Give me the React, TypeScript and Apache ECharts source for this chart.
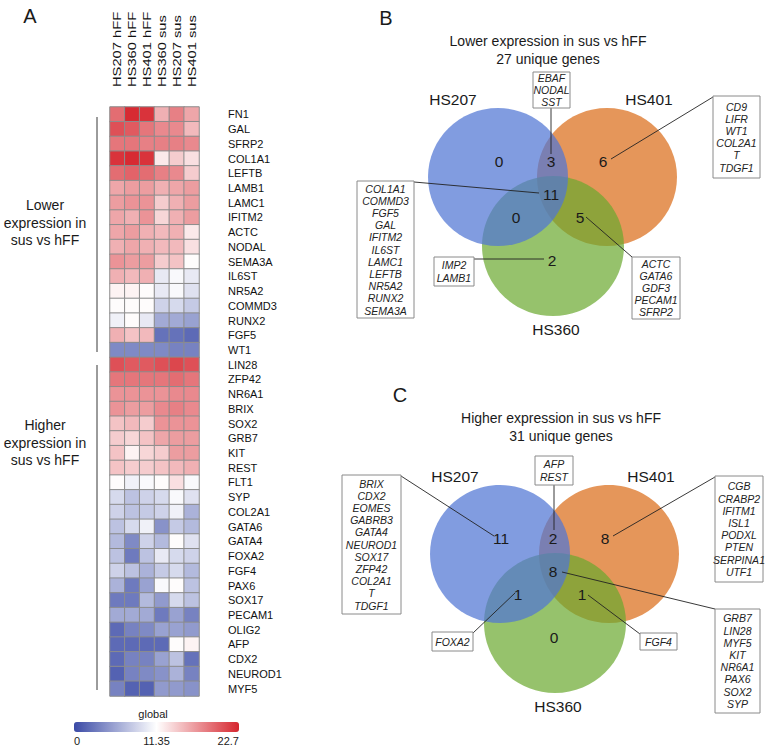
import React, { useEffect, useRef } from "react";
import * as echarts from "echarts";

const FONT = "'Liberation Sans', Arial, Helvetica, sans-serif";

const samples = ["HS207 hFF", "HS360 hFF", "HS401 hFF", "HS360 sus", "HS207 sus", "HS401 sus"];
const genes = [
  "FN1", "GAL", "SFRP2", "COL1A1", "LEFTB", "LAMB1", "LAMC1", "IFITM2", "ACTC", "NODAL",
  "SEMA3A", "IL6ST", "NR5A2", "COMMD3", "RUNX2", "FGF5", "WT1", "LIN28", "ZFP42", "NR6A1",
  "BRIX", "SOX2", "GRB7", "KIT", "REST", "FLT1", "SYP", "COL2A1", "GATA6", "GATA4",
  "FOXA2", "FGF4", "PAX6", "SOX17", "PECAM1", "OLIG2", "AFP", "CDX2", "NEUROD1", "MYF5",
];
const values = [
  [19, 22.5, 22, 15.5, 18, 16],
  [20.5, 20, 18.5, 17.5, 17.5, 15],
  [18.5, 18.5, 18, 18, 18, 17.5],
  [22, 22.5, 22, 12.5, 14, 13],
  [19, 19.5, 19, 18, 17.5, 14],
  [16, 16.5, 16.5, 15.5, 16, 16.5],
  [16.5, 17, 17, 14, 15.5, 16.5],
  [16, 15.5, 17, 13.5, 15.5, 16.5],
  [16, 16.5, 15.5, 15, 15.5, 12.5],
  [15.5, 16, 15.5, 15, 15, 13],
  [17, 16.5, 16.5, 14, 14.5, 11.5],
  [15.5, 15, 15.5, 10, 11, 10],
  [12, 12, 11.5, 10, 11, 9.5],
  [11.5, 11.5, 11.5, 8.5, 9, 8],
  [10.5, 11.5, 10, 6, 6, 5.5],
  [15.5, 14.5, 15, 2.5, 2.5, 2],
  [4, 4, 4, 4, 3.5, 3.5],
  [20.5, 20, 20, 20.5, 21, 20.5],
  [18.5, 18.5, 18.5, 18.5, 19, 18.5],
  [17, 17, 17, 17, 17.5, 17.5],
  [17, 16.5, 16.5, 17.5, 18, 17.5],
  [14.5, 15, 14, 17, 17, 17],
  [14, 13.5, 14.5, 16, 16.5, 16.5],
  [14.5, 12, 13.5, 14, 16.5, 16.5],
  [14.5, 14, 14, 14.5, 15, 15.5],
  [11.5, 10.5, 11, 11.5, 13, 11],
  [9, 7.5, 8.5, 9, 11, 9.5],
  [8.5, 7.5, 8, 8.5, 10.5, 6.5],
  [7.5, 9, 10.5, 4.5, 8, 7],
  [7, 4, 8.5, 7, 11.5, 9.5],
  [7.5, 3, 7.5, 10, 9, 8.5],
  [8.5, 7.5, 6.5, 8, 9, 7],
  [6.5, 3, 5.5, 11, 11.5, 7.5],
  [3, 3, 7, 5, 9, 7.5],
  [6, 6, 6, 3, 5.5, 3.5],
  [2, 3.5, 4, 5.5, 5.5, 5],
  [2, 2, 2, 2, 11.5, 12],
  [2, 3.5, 3.5, 5.5, 7.5, 2.5],
  [1.5, 3.5, 4, 4.5, 6.5, 3.5],
  [3.5, 1.5, 1.5, 5, 5, 4.5],
];
const colorMin = 0;
const colorMax = 22.7;
const colorTicks = ["0", "11.35", "22.7"];
const heatColors = ["#3a4aa6", "#ffffff", "#d6262e"];

const groupLabels = ["Lower\nexpression in\nsus vs hFF", "Higher\nexpression in\nsus vs hFF"];

const vennSets = ["HS207", "HS401", "HS360"];
const vennBTitle = "Lower expression in sus vs hFF\n27 unique genes";
const vennCTitle = "Higher expression in sus vs hFF\n31 unique genes";
// counts: [207 only, 207&401, 401 only, all, 207&360, 401&360, 360 only]
const vennBCounts = ["0", "3", "6", "11", "0", "5", "2"];
const vennCCounts = ["11", "2", "8", "8", "1", "1", "0"];

const bBox1 = ["EBAF", "NODAL", "SST"];
const bBox2 = ["CD9", "LIFR", "WT1", "COL2A1", "T", "TDGF1"];
const bBox3 = ["COL1A1", "COMMD3", "FGF5", "GAL", "IFITM2", "IL6ST", "LAMC1", "LEFTB", "NR5A2", "RUNX2", "SEMA3A"];
const bBox4 = ["IMP2", "LAMB1"];
const bBox5 = ["ACTC", "GATA6", "GDF3", "PECAM1", "SFRP2"];

const cBox1 = ["AFP", "REST"];
const cBox2 = ["BRIX", "CDX2", "EOMES", "GABRB3", "GATA4", "NEUROD1", "SOX17", "ZFP42", "COL2A1", "T", "TDGF1"];
const cBox3 = ["CGB", "CRABP2", "IFITM1", "ISL1", "PODXL", "PTEN", "SERPINA1", "UTF1"];
const cBox4 = ["FOXA2"];
const cBox5 = ["FGF4"];
const cBox6 = ["GRB7", "LIN28", "MYF5", "KIT", "NR6A1", "PAX6", "SOX2", "SYP"];

const GRID = { left: 110, top: 107, width: 89, height: 589 };

function txt(x: number, y: number, text: string, size: number, extra: any = {}) {
  return {
    type: "text",
    x,
    y,
    z: 10,
    style: {
      text,
      fontSize: size,
      fontFamily: FONT,
      fill: "#1a1a1a",
      align: "center",
      textAlign: "center",
      verticalAlign: "middle",
      textVerticalAlign: "middle",
      ...extra,
    },
  };
}

function line(x1: number, y1: number, x2: number, y2: number) {
  return {
    type: "line",
    z: 5,
    shape: { x1, y1, x2, y2 },
    style: { stroke: "#222", lineWidth: 0.9 },
  };
}

function box(x: number, y: number, w: number, h: number, items: string[]) {
  const lh = 12.2;
  const els: any[] = [
    {
      type: "rect",
      z: 6,
      shape: { x, y, width: w, height: h },
      style: { fill: "#fff", stroke: "#8a8a8a", lineWidth: 1 },
    },
  ];
  const cy = y + h / 2;
  items.forEach((g, i) => {
    els.push(
      txt(x + w / 2, cy + (i - (items.length - 1) / 2) * lh, g, 10.5, {
        fontStyle: "italic",
        fill: "#222",
      })
    );
  });
  return els;
}

function venn(dy: number, dx: number, title: string, titleX: number, counts: string[]) {
  const els: any[] = [];
  const r = 70;
  const blue = { cx: 498 + dx, cy: 177 + dy };
  const orange = { cx: 607 + dx, cy: 177 + dy };
  const green = { cx: 553 + dx, cy: 246 + dy };
  els.push({ type: "ellipse", z: 1, shape: { ...orange, rx: r, ry: 69 }, style: { fill: "rgb(229,150,90)" } });
  els.push({ type: "ellipse", z: 2, shape: { ...green, rx: r + 1, ry: 70 }, style: { fill: "rgba(105,168,45,0.7)" } });
  els.push({ type: "ellipse", z: 3, shape: { ...blue, rx: r, ry: 69 }, style: { fill: "rgba(80,118,212,0.72)" } });
  const lines = title.split("\n");
  els.push(txt(titleX, 41 + dy, lines[0], 14));
  els.push(txt(titleX, 58.5 + dy, lines[1], 14));
  els.push(txt(453 + dx, 99 + dy, vennSets[0], 15.5));
  els.push(txt(649 + dx, 99 + dy, vennSets[1], 15.5));
  els.push(txt(556 + dx, 329 + dy, vennSets[2], 15.5));
  const pos = [
    [499, 161],
    [551, 161],
    [603, 161],
    [551, 194],
    [516, 217],
    [580, 217],
    [552, 260],
  ];
  counts.forEach((c, i) => {
    els.push(txt(pos[i][0] + dx, pos[i][1] + dy, c, 15.5));
  });
  return els;
}

export default function App() {
  const ref = useRef<HTMLDivElement>(null);
  useEffect(() => {
    if (!ref.current) return;
    const chart = echarts.init(ref.current, null, { renderer: "svg" });
    const data: any[] = [];
    values.forEach((row, r) => row.forEach((v, c) => data.push([c, r, v])));

    const graphic: any[] = [];
    graphic.push(txt(30, 16, "A", 20));
    graphic.push(txt(386, 18, "B", 20));
    graphic.push(txt(400, 395, "C", 20));
    const colW = GRID.width / samples.length;
    samples.forEach((s, i) => {
      graphic.push({
        type: "text",
        x: GRID.left + colW * (i + 0.5),
        y: 87,
        rotation: Math.PI / 2,
        scaleX: 1.28,
        z: 10,
        style: {
          text: s,
          fontSize: 11.5,
          fontFamily: FONT,
          fill: "#111",
          align: "left",
          textAlign: "left",
          verticalAlign: "middle",
          textVerticalAlign: "middle",
        },
      });
    });
    graphic.push(line(97, 117, 97, 352));
    graphic.push(line(97, 365, 97, 690));
    groupLabels[0].split("\n").forEach((s, i) => graphic.push(txt(45, 205 + i * 17.5, s, 14)));
    groupLabels[1].split("\n").forEach((s, i) => graphic.push(txt(45, 425 + i * 17.5, s, 14)));
    graphic.push(txt(153, 714, "global", 11));
    graphic.push(txt(74, 741, colorTicks[0], 11, { align: "left", textAlign: "left" }));
    graphic.push(txt(74 + 165 * 0.5, 741, colorTicks[1], 11));
    graphic.push(txt(239, 741, colorTicks[2], 11, { align: "right", textAlign: "right" }));

    // Venn B
    graphic.push(...venn(0, 0, vennBTitle, 548, vennBCounts));
    graphic.push(line(551, 108, 551, 154));
    graphic.push(...box(533, 72, 37, 36, bBox1));
    graphic.push(line(713, 97, 611, 159));
    graphic.push(...box(713, 96, 47, 82, bBox2));
    graphic.push(line(414, 182, 539, 193));
    graphic.push(...box(357, 181, 57, 137, bBox3));
    graphic.push(line(474, 259, 544, 259));
    graphic.push(...box(434, 257, 40, 29, bBox4));
    graphic.push(line(632, 257, 586, 217));
    graphic.push(...box(632, 257, 48, 62, bBox5));

    // Venn C
    graphic.push(...venn(377, 2, vennCTitle, 561, vennCCounts));
    graphic.push(line(554, 485, 554, 530));
    graphic.push(...box(535, 456, 38, 29, cBox1));
    graphic.push(line(401, 476, 494, 536));
    graphic.push(...box(342, 475, 59, 139, cBox2));
    graphic.push(line(715, 477, 613, 536));
    graphic.push(...box(715, 476, 48, 106, cBox3));
    graphic.push(line(473, 633, 515, 593));
    graphic.push(...box(432, 632, 41, 19, cBox4));
    graphic.push(line(640, 634, 588, 595));
    graphic.push(...box(640, 633, 37, 17, cBox5));
    graphic.push(line(715, 609, 562, 572));
    graphic.push(...box(715, 609, 45, 104, cBox6));

    chart.setOption({
      animation: false,
      backgroundColor: "#ffffff",
      grid: GRID,
      xAxis: {
        type: "category",
        data: samples,
        position: "top",
        axisLine: { show: false },
        axisTick: { show: false },
        splitLine: { show: false },
        axisLabel: { show: false },
      },
      yAxis: {
        type: "category",
        data: genes,
        inverse: true,
        position: "right",
        axisLine: { show: false },
        axisTick: { show: false },
        splitLine: { show: false },
        axisLabel: { interval: 0, margin: 29, fontSize: 11, color: "#111", fontFamily: FONT },
      },
      visualMap: {
        type: "continuous",
        min: colorMin,
        max: colorMax,
        orient: "horizontal",
        left: 74,
        top: 722,
        itemWidth: 10,
        itemHeight: 165,
        padding: 0,
        calculable: false,
        hoverLink: false,
        text: null,
        inRange: { color: heatColors },
      },
      series: [
        {
          type: "heatmap",
          data,
          itemStyle: { borderColor: "#8c8c8c", borderWidth: 1 },
          emphasis: { disabled: true },
          label: { show: false },
        },
      ],
      graphic,
    });
    return () => chart.dispose();
  }, []);
  return (
    <div
      ref={ref}
      style={{ position: "fixed", left: 0, top: 0, width: 778, height: 746, background: "#fff" }}
    />
  );
}
